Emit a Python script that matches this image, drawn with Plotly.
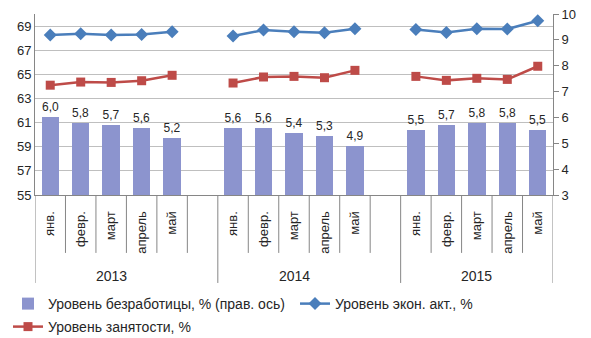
import plotly.graph_objects as go

years = ["2013", "2014", "2015"]
months = ["янв.", "февр.", "март", "апрель", "май"]

unemployment = [6.0, 5.8, 5.7, 5.6, 5.2,
                5.6, 5.6, 5.4, 5.3, 4.9,
                5.5, 5.7, 5.8, 5.8, 5.5]
activity = [68.25, 68.36, 68.25, 68.3, 68.53,
            68.17, 68.67, 68.53, 68.44, 68.78,
            68.72, 68.47, 68.78, 68.75, 69.44]
employment = [64.1, 64.36, 64.33, 64.47, 64.92,
              64.28, 64.78, 64.83, 64.72, 65.33,
              64.83, 64.5, 64.67, 64.58, 65.67]

left_ticks = [55, 57, 59, 61, 63, 65, 67, 69]
right_ticks = [3, 4, 5, 6, 7, 8, 9, 10]

# slot layout: 5 months + 1 blank slot per group (except last)
group_size = len(months) + 1
xpos = [g * group_size + i for g in range(len(years)) for i in range(len(months))]
xlabels = [m for _ in years for m in months]
n_slots = group_size * (len(years) - 1) + len(months)

FONT = "Liberation Sans"
TXT = "#262626"
BLUE = "#4A7EBB"
RED = "#BE4B48"

fig = go.Figure()
fig.add_trace(go.Bar(
    x=xpos, y=unemployment, yaxis="y2", width=0.57,
    marker=dict(color="#8C94CE", line=dict(width=0)),
    text=[f"{v:.1f}".replace(".", ",") for v in unemployment],
    textposition="outside", cliponaxis=False,
    textfont=dict(size=12, color=TXT, family=FONT),
    name="Уровень безработицы, % (прав. ось)", legend="legend", showlegend=True,
))
for g in range(len(years)):
    sl = slice(g * len(months), (g + 1) * len(months))
    fig.add_trace(go.Scatter(
        x=xpos[sl], y=activity[sl], mode="lines+markers",
        line=dict(color=BLUE, width=2.5),
        marker=dict(symbol="diamond", size=10, color=BLUE),
        name="Уровень экон. акт., %", legendgroup="act", showlegend=(g == 0),
        legend="legend2",
    ))
for g in range(len(years)):
    sl = slice(g * len(months), (g + 1) * len(months))
    fig.add_trace(go.Scatter(
        x=xpos[sl], y=employment[sl], mode="lines+markers",
        line=dict(color=RED, width=2.5),
        marker=dict(symbol="square", size=9, color=RED),
        name="Уровень занятости, %", legendgroup="emp", showlegend=(g == 0),
        legend="legend3",
    ))

shapes = []
long_bounds = [-0.5] + [g * group_size + len(months) + 0.5 for g in range(len(years) - 1)] + [n_slots - 0.5]
for k in range(n_slots + 1):
    b = k - 0.5
    is_long = any(abs(b - lb) < 1e-9 for lb in long_bounds)
    shapes.append(dict(type="line", xref="x", yref="paper", x0=b, x1=b,
                       y0=0, y1=-0.486 if is_long else -0.32,
                       line=dict(color="#868686", width=1)))

annotations = []
for g, yr in enumerate(years):
    center = g * group_size + (len(months) - 1) / 2
    annotations.append(dict(x=center, y=-0.445, xref="x", yref="paper",
                            text=yr, showarrow=False, yanchor="middle",
                            font=dict(size=14, color=TXT, family=FONT)))

leg_common = dict(orientation="h", xref="container", yref="container",
                  xanchor="left", yanchor="top",
                  font=dict(size=14, color=TXT, family=FONT),
                  itemwidth=30, bgcolor="rgba(0,0,0,0)")

# page body adds an 8px offset, so the figure is drawn 8px smaller
fig.update_layout(
    width=583, height=330,
    margin=dict(l=27, r=38, t=6, b=143, autoexpand=False),
    plot_bgcolor="white", paper_bgcolor="white",
    font=dict(family=FONT, color=TXT),
    showlegend=True,
    bargap=0,
    xaxis=dict(range=[-0.5, n_slots - 0.5], tickvals=xpos, ticktext=xlabels,
               tickangle=-90, ticks="", showgrid=False, zeroline=False,
               showline=True, linecolor="#868686", linewidth=1, automargin=False,
               tickfont=dict(size=13, color=TXT, family=FONT), ticklabelstandoff=10),
    yaxis=dict(range=[55, 70], tickvals=left_ticks, showgrid=True, gridcolor="#BFBFBF",
               gridwidth=1, zeroline=False, showline=True, linecolor="#868686",
               ticks="", automargin=False, ticklabeloverflow="allow",
               tickfont=dict(size=13, color=TXT, family=FONT)),
    yaxis2=dict(range=[3, 10], tickvals=right_ticks, overlaying="y", side="right",
                showgrid=False, zeroline=False, showline=True, linecolor="#868686",
                ticks="outside", ticklen=5, tickcolor="#868686", automargin=False,
                ticklabeloverflow="allow",
                tickfont=dict(size=13, color=TXT, family=FONT)),
    legend=dict(x=-0.0086, y=0.1515, **leg_common),
    legend2=dict(x=0.4923, y=0.1515, **leg_common),
    legend3=dict(x=-0.0086, y=0.0818, **leg_common),
    shapes=shapes, annotations=annotations,
)

fig.write_html("out.html")
